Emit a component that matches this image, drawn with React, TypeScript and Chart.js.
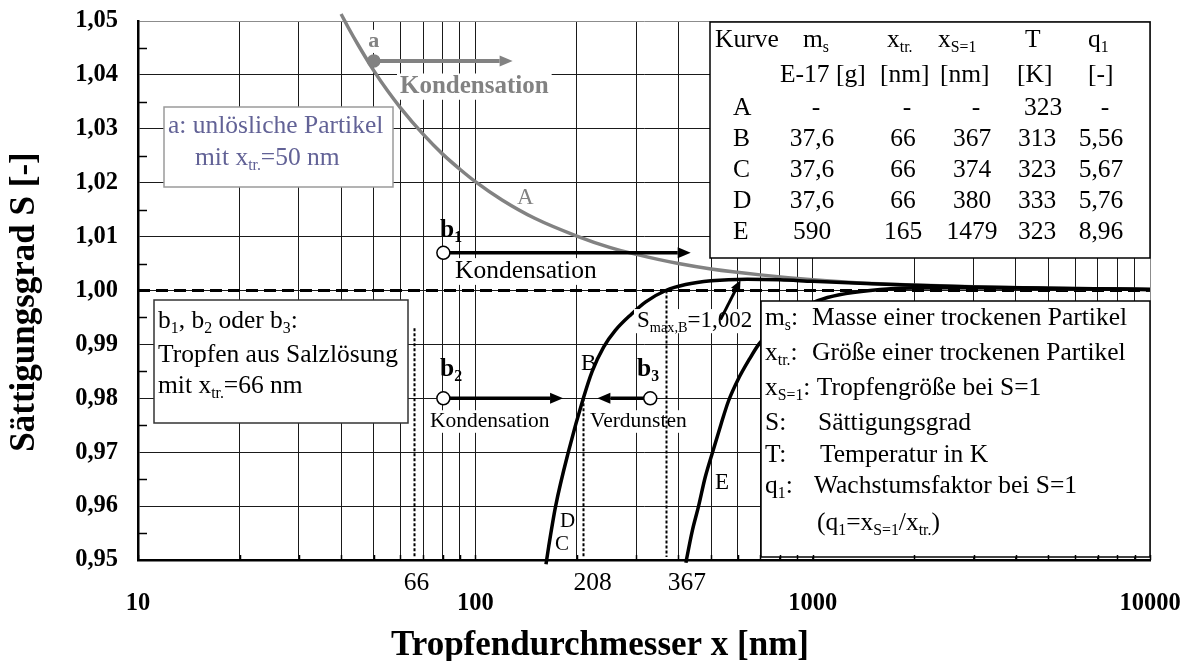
import React, { useEffect, useRef } from 'react';
import { Chart, registerables } from 'chart.js';

Chart.register(...registerables);

const SERIF = '"Liberation Serif", "Times New Roman", serif';

// ---- axes -------------------------------------------------------------
const xGridValues = [
  10, 20, 30, 40, 50, 60, 70, 80, 90,
  100, 200, 300, 400, 500, 600, 700, 800, 900,
  1000, 2000, 3000, 4000, 5000, 6000, 7000, 8000, 9000, 10000,
];
const xLabelValues = [10, 100, 1000, 10000];
const xLabelTexts = ['10', '100', '1000', '10000'];
const yTickValues = [0.95, 0.96, 0.97, 0.98, 0.99, 1.0, 1.01, 1.02, 1.03, 1.04, 1.05];
const yTickLabels = ['0,95', '0,96', '0,97', '0,98', '0,99', '1,00', '1,01', '1,02', '1,03', '1,04', '1,05'];
const yMinorValues = [0.955, 0.965, 0.975, 0.985, 0.995, 1.005, 1.015, 1.025, 1.035, 1.045];

// ---- curves (droplet diameter in nm, saturation S) ---------------------
// A: insoluble particle (Kelvin curve), T = 323 K
const curveAX = [40, 42, 45, 50, 55, 60, 70, 80, 90, 100, 120, 150, 200, 250, 300, 400, 500, 700, 1000, 1500, 2000, 3000, 5000, 10000];
const curveAS = [1.0513, 1.0488, 1.0455, 1.0408, 1.037, 1.0339, 1.029, 1.0253, 1.0225, 1.0202, 1.0168, 1.0134, 1.0101, 1.008, 1.0067, 1.005, 1.004, 1.0029, 1.002, 1.0013, 1.001, 1.0007, 1.0004, 1.0002];
// B (C and D run on top of it at this scale)
const curveBX = [162, 165, 173, 189, 209, 222, 240, 260, 290, 320, 367, 420, 500, 640, 800, 1000, 1500, 2000, 3000, 5000, 10000];
const curveBS = [0.9492, 0.9525, 0.96, 0.9702, 0.98, 0.985, 0.9895, 0.9926, 0.9956, 0.9979, 1.0, 1.0011, 1.0018, 1.0021, 1.002, 1.0017, 1.00125, 1.00097, 1.00066, 1.0004, 1.0002];
// E: x_tr = 165 nm
const curveEX = [421, 423, 440, 459, 480, 505, 535, 563, 600, 650, 692, 750, 800, 900, 1035, 1200, 1480, 2000, 2600, 3500, 5000, 7000, 10000];
const curveES = [0.9495, 0.9502, 0.9555, 0.96, 0.9653, 0.97, 0.9752, 0.9795, 0.9834, 0.9873, 0.99, 0.9924, 0.994, 0.9963, 0.9981, 0.9992, 1.0, 1.00045, 1.0005, 1.00047, 1.00038, 1.00028, 1.0002];
// saturation line S = 1
const unityX = [10, 10000];
const unityS = [1.0, 1.0];

// ---- marked diameters on the x axis -----------------------------------
const markedX = [66, 208, 367];
const markedLabels = ['66', '208', '367'];
const markedTopS = [0.993, 0.98, 1.0];

// ---- process arrows: start diameter, end diameter, S --------------------
const arrowA = [50, 129, 1.0426];
const arrowB1 = [80.4, 435, 1.007];
const arrowB2 = [80.4, 182, 0.98];
const arrowB3 = [330, 230, 0.98];
const arrowSmax = [533, 611, 0.9946, 1.0019];

// ---- parameter table --------------------------------------------------
const tableCurves = ['A', 'B', 'C', 'D', 'E'];
const tableMs = ['-', '37,6', '37,6', '37,6', '590'];
const tableXtr = ['-', '66', '66', '66', '165'];
const tableXs1 = ['-', '367', '374', '380', '1479'];
const tableT = ['323', '313', '323', '333', '323'];
const tableQ1 = ['-', '5,56', '5,67', '5,76', '8,96'];

type Seg = [string, number?];

const pts = (xs: number[], ys: number[]) => xs.map((x, i) => ({ x, y: ys[i] }));

function segFont(size: number, weight: string, sub: boolean) {
  return `${weight} ${sub ? (size * 0.62).toFixed(1) : size}px ${SERIF}`;
}

function richWidth(ctx: CanvasRenderingContext2D, segs: Seg[], size: number, weight: string) {
  let w = 0;
  for (const [t, sub] of segs) {
    ctx.font = segFont(size, weight, !!sub);
    w += ctx.measureText(t).width;
  }
  return w;
}

function drawRich(
  ctx: CanvasRenderingContext2D,
  segs: Seg[],
  x: number,
  y: number,
  size: number,
  opts: { weight?: string; color?: string; align?: 'left' | 'center'; bg?: boolean } = {}
) {
  const weight = opts.weight || 'normal';
  ctx.save();
  const w = richWidth(ctx, segs, size, weight);
  let cx = opts.align === 'center' ? x - w / 2 : x;
  if (opts.bg) {
    ctx.fillStyle = '#fff';
    ctx.fillRect(cx - 3, y - size * 0.78, w + 6, size * 1.05);
  }
  ctx.fillStyle = opts.color || '#000';
  ctx.textBaseline = 'alphabetic';
  ctx.textAlign = 'left';
  for (const [t, sub] of segs) {
    ctx.font = segFont(size, weight, !!sub);
    ctx.fillText(t, cx, y + (sub ? size * 0.2 : 0));
    cx += ctx.measureText(t).width;
  }
  ctx.restore();
}

function drawBox(ctx: CanvasRenderingContext2D, x: number, y: number, w: number, h: number, stroke: string) {
  ctx.save();
  ctx.fillStyle = '#fff';
  ctx.fillRect(x, y, w, h);
  ctx.strokeStyle = stroke;
  ctx.lineWidth = 1.5;
  ctx.strokeRect(x, y, w, h);
  ctx.restore();
}

function drawArrow(
  ctx: CanvasRenderingContext2D,
  x0: number, y0: number, x1: number, y1: number,
  color: string, width: number, headLen: number, headHalf: number
) {
  const a = Math.atan2(y1 - y0, x1 - x0);
  const bx = x1 - Math.cos(a) * headLen;
  const by = y1 - Math.sin(a) * headLen;
  ctx.save();
  ctx.strokeStyle = color;
  ctx.fillStyle = color;
  ctx.lineWidth = width;
  ctx.beginPath();
  ctx.moveTo(x0, y0);
  ctx.lineTo(bx, by);
  ctx.stroke();
  ctx.beginPath();
  ctx.moveTo(x1, y1);
  ctx.lineTo(bx - Math.sin(a) * headHalf, by + Math.cos(a) * headHalf);
  ctx.lineTo(bx + Math.sin(a) * headHalf, by - Math.cos(a) * headHalf);
  ctx.closePath();
  ctx.fill();
  ctx.restore();
}

function drawDot(ctx: CanvasRenderingContext2D, x: number, y: number, r: number, fill: string, stroke: string) {
  ctx.save();
  ctx.beginPath();
  ctx.arc(x, y, r, 0, Math.PI * 2);
  ctx.fillStyle = fill;
  ctx.fill();
  ctx.strokeStyle = stroke;
  ctx.lineWidth = 1.5;
  ctx.stroke();
  ctx.restore();
}

const overlay = {
  id: 'overlay',
  afterDatasetsDraw(chart: any) {
    const ctx: CanvasRenderingContext2D = chart.ctx;
    const xs = chart.scales.x;
    const ys = chart.scales.y;
    const X = (v: number) => xs.getPixelForValue(v);
    const Y = (v: number) => ys.getPixelForValue(v);
    const area = chart.chartArea;
    const gray = '#828282';

    // labels that sit on a white ground
    drawRich(ctx, [['a']], X(arrowA[0]), 47, 22, { weight: 'bold', color: gray, align: 'center', bg: true });
    drawRich(ctx, [['Kondensation']], 400, 93, 25, { weight: 'bold', color: gray, bg: true });
    drawRich(ctx, [['Kondensation']], 455, 278, 25.5, { bg: true });
    drawRich(ctx, [['Kondensation']], 430, 427, 21.5, { bg: true });
    drawRich(ctx, [['Verdunsten']], 590, 427, 21.5, { bg: true });
    drawRich(ctx, [['S'], ['max,B', 1], ['=1,002']], 637, 327, 23, { bg: true });

    // dotted markers for 66, 208 and 367 nm
    ctx.save();
    ctx.strokeStyle = '#000';
    ctx.lineWidth = 2;
    ctx.setLineDash([3, 2]);
    markedX.forEach((v, i) => {
      const px = Math.round(X(v)) + 0.5;
      ctx.beginPath();
      ctx.moveTo(px, Y(markedTopS[i]));
      ctx.lineTo(px, area.bottom - 3);
      ctx.stroke();
    });
    ctx.restore();

    // process arrows
    drawArrow(ctx, X(arrowA[0]), Y(arrowA[2]), X(arrowA[1]), Y(arrowA[2]), gray, 4, 13, 5.5);
    drawDot(ctx, X(arrowA[0]), Y(arrowA[2]), 6, gray, gray);
    for (const arr of [arrowB1, arrowB2, arrowB3]) {
      drawArrow(ctx, X(arr[0]), Y(arr[2]), X(arr[1]), Y(arr[2]), '#000', 3.5, 13, 5.5);
      drawDot(ctx, X(arr[0]), Y(arr[2]), 6.5, '#fff', '#000');
    }
    drawArrow(ctx, X(arrowSmax[0]), Y(arrowSmax[2]), X(arrowSmax[1]), Y(arrowSmax[3]), '#000', 3, 11, 5);

    // note boxes
    drawBox(ctx, 164, 107, 229, 80, '#9a9a9a');
    const blue = '#626296';
    drawRich(ctx, [['a: unlösliche Partikel']], 168, 133, 25.5, { color: blue });
    drawRich(ctx, [['mit x'], ['tr.', 1], ['=50 nm']], 195, 165, 25.5, { color: blue });

    drawBox(ctx, 154, 300, 254, 123, '#333');
    drawRich(ctx, [['b'], ['1', 1], [', b'], ['2', 1], [' oder b'], ['3', 1], [':']], 158, 328, 25.5);
    drawRich(ctx, [['Tropfen aus Salzlösung']], 158, 362, 25.5);
    drawRich(ctx, [['mit x'], ['tr.', 1], ['=66 nm']], 158, 393, 25.5);

    // parameter table
    drawBox(ctx, 710, 22, area.right - 710, 236, '#000');
    const fs = 25.5;
    drawRich(ctx, [['Kurve']], 715, 47, fs);
    drawRich(ctx, [['m'], ['s', 1]], 803, 47, fs);
    drawRich(ctx, [['x'], ['tr.', 1]], 887, 47, fs);
    drawRich(ctx, [['x'], ['S=1', 1]], 938, 47, fs);
    drawRich(ctx, [['T']], 1025, 47, fs);
    drawRich(ctx, [['q'], ['1', 1]], 1088, 47, fs);
    drawRich(ctx, [['E-17 [g]']], 780, 82, fs);
    drawRich(ctx, [['[nm]']], 880, 82, fs);
    drawRich(ctx, [['[nm]']], 940, 82, fs);
    drawRich(ctx, [['[K]']], 1017, 82, fs);
    drawRich(ctx, [['[-]']], 1088, 82, fs);
    const cols = [tableMs, tableXtr, tableXs1, tableT, tableQ1];
    const colCenters = [812, 903, 972, 1037, 1101];
    tableCurves.forEach((c, r) => {
      const by = 115 + r * 31;
      drawRich(ctx, [[c]], 733, by, fs);
      cols.forEach((col, k) => {
        const dx = col[r] === '-' ? 4 : 0;
        drawRich(ctx, [[col[r]]], colCenters[k] + dx + (r === 0 && k === 3 ? 6 : 0), by, fs, { align: 'center' });
      });
    });

    // symbol legend
    drawBox(ctx, 761, 301, area.right - 761, 256, '#000');
    drawRich(ctx, [['m'], ['s', 1], [':']], 765, 325, fs);
    drawRich(ctx, [['Masse einer trockenen Partikel']], 812, 325, fs);
    drawRich(ctx, [['x'], ['tr.', 1], [':']], 765, 360, fs);
    drawRich(ctx, [['Größe einer trockenen Partikel']], 812, 360, fs);
    drawRich(ctx, [['x'], ['S=1', 1], [': Tropfengröße bei S=1']], 765, 395, fs);
    drawRich(ctx, [['S:']], 765, 430, fs);
    drawRich(ctx, [['Sättigungsgrad']], 818, 430, fs);
    drawRich(ctx, [['T:']], 765, 462, fs);
    drawRich(ctx, [['Temperatur in K']], 820, 462, fs);
    drawRich(ctx, [['q'], ['1', 1], [':']], 765, 493, fs);
    drawRich(ctx, [['Wachstumsfaktor bei S=1']], 814, 493, fs);
    drawRich(ctx, [['(q'], ['1', 1], ['=x'], ['S=1', 1], ['/x'], ['tr.', 1], [')']], 817, 530, fs);

    // curve names and droplet names
    drawRich(ctx, [['A']], 517, 204, 23, { color: gray });
    drawRich(ctx, [['B']], 581, 370, 23);
    drawRich(ctx, [['D']], 560, 527, 21);
    drawRich(ctx, [['C']], 555, 550, 21);
    drawRich(ctx, [['E']], 715, 489, 23);
    drawRich(ctx, [['b'], ['1', 1]], 440, 237, 25.5, { weight: 'bold' });
    drawRich(ctx, [['b'], ['2', 1]], 440, 376, 25.5, { weight: 'bold' });
    drawRich(ctx, [['b'], ['3', 1]], 637, 376, 25.5, { weight: 'bold' });

    // inner minor ticks
    ctx.save();
    ctx.strokeStyle = '#000';
    ctx.lineWidth = 1.5;
    for (const v of yMinorValues) {
      const py = Math.round(Y(v)) + 0.5;
      ctx.beginPath();
      ctx.moveTo(area.left, py);
      ctx.lineTo(area.left + 9, py);
      ctx.stroke();
    }
    for (const v of xGridValues) {
      const px = Math.round(X(v)) + 0.5;
      ctx.beginPath();
      ctx.moveTo(px, area.bottom);
      ctx.lineTo(px, area.bottom - 5);
      ctx.stroke();
    }
    ctx.restore();

    // marked diameters below the axis
    markedX.forEach((v, i) => {
      const off = [2, 10, 21][i];
      drawRich(ctx, [[markedLabels[i]]], X(v) + off, 590, 25.5, { align: 'center' });
    });

    // axis titles
    drawRich(ctx, [['Tropfendurchmesser x [nm]']], 600, 655, 35, { weight: 'bold', align: 'center' });
    ctx.save();
    ctx.translate(25, 302);
    ctx.rotate(-Math.PI / 2);
    ctx.font = `bold 35px ${SERIF}`;
    ctx.fillStyle = '#000';
    ctx.textAlign = 'center';
    ctx.textBaseline = 'middle';
    ctx.fillText('Sättigungsgrad S [-]', 0, 0);
    ctx.restore();
  },
};

export default function App() {
  const ref = useRef<HTMLCanvasElement>(null);

  useEffect(() => {
    const canvas = ref.current;
    if (!canvas) return;
    const line = { pointRadius: 0, fill: false, clip: false as const, cubicInterpolationMode: 'monotone' as const };
    const chart = new Chart(canvas, {
      type: 'line',
      data: {
        datasets: [
          { label: 'B', data: pts(curveBX, curveBS), borderColor: '#000', borderWidth: 3.5, ...line },
          { label: 'E', data: pts(curveEX, curveES), borderColor: '#000', borderWidth: 3.5, ...line },
          { label: 'A', data: pts(curveAX, curveAS), borderColor: '#828282', borderWidth: 3.5, ...line },
          { label: 'S=1', data: pts(unityX, unityS), borderColor: '#000', borderWidth: 3, borderDash: [12, 6], ...line },
        ],
      },
      options: {
        responsive: false,
        animation: false,
        devicePixelRatio: 1,
        events: [],
        layout: { padding: { left: 8, top: 21, right: 41, bottom: 0 } },
        plugins: { legend: { display: false }, tooltip: { enabled: false } },
        scales: {
          x: {
            type: 'logarithmic',
            min: 10,
            max: 10000,
            afterBuildTicks: (s: any) => {
              s.ticks = xGridValues.map((v) => ({ value: v }));
            },
            afterFit: (s: any) => {
              s.height = 101;
              s.paddingLeft = 0;
              s.paddingRight = 0;
            },
            ticks: {
              autoSkip: false,
              maxRotation: 0,
              padding: 29,
              color: '#000',
              font: { family: SERIF, size: 24.5, weight: 'bold' },
              callback: (v: any) => {
                const i = xLabelValues.indexOf(Number(v));
                return i >= 0 ? xLabelTexts[i] : '';
              },
            },
            grid: {
              drawTicks: false,
              lineWidth: 1,
              color: (c: any) => (c.tick && c.tick.value === 10000 ? '#8c8c8c' : '#1a1a1a'),
            },
            border: { display: true, color: '#000', width: 2.5 },
          },
          y: {
            type: 'linear',
            min: 0.95,
            max: 1.05,
            afterBuildTicks: (s: any) => {
              s.ticks = yTickValues.map((v) => ({ value: v }));
            },
            afterFit: (s: any) => {
              s.width = 130;
              s.paddingTop = 0;
              s.paddingBottom = 0;
            },
            ticks: {
              padding: 20,
              color: '#000',
              font: { family: SERIF, size: 24.5, weight: 'bold' },
              callback: (_v: any, i: number) => yTickLabels[i],
            },
            grid: {
              drawTicks: false,
              lineWidth: 1,
              color: (c: any) => (c.tick && c.tick.value === 1.05 ? '#8c8c8c' : '#1a1a1a'),
            },
            border: { display: true, color: '#000', width: 2.5 },
          },
        },
      } as any,
      plugins: [overlay],
    });
    return () => chart.destroy();
  }, []);

  return (
    <div style={{ position: 'fixed', left: 0, top: 0, width: 1191, height: 661, background: '#fff' }}>
      <canvas ref={ref} width={1191} height={661} style={{ display: 'block', width: 1191, height: 661 }} />
    </div>
  );
}
